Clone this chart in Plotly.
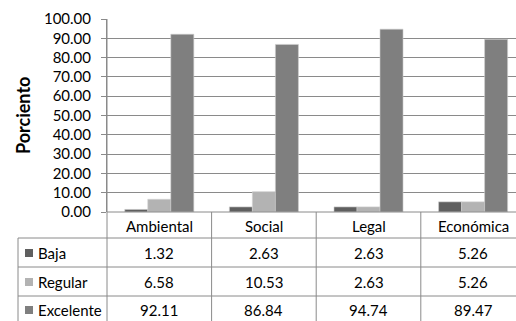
import plotly.graph_objects as go

categories = ["Ambiental", "Social", "Legal", "Económica"]
series_names = ["Baja", "Regular", "Excelente"]
baja = [1.32, 2.63, 2.63, 5.26]
regular = [6.58, 10.53, 2.63, 5.26]
excelente = [92.11, 86.84, 94.74, 89.47]
colors = ["#5f5f5f", "#b3b3b3", "#7f7f7f"]

W, H = 516, 321
ML, MR, MT, MB = 107, 0, 19, 109
PW, PH = W - ML - MR, H - MT - MB
CATW = 104.6  # pixel width of one category
XR = [-0.5, -0.5 + PW / CATW]

FONT = "Lato"
FS = 15
TXT = "#000000"
LINE = "#8a8a8a"

def px(xpix):
    return (xpix - ML) / PW

def py(ypix):
    return (MT + PH - ypix) / PH

def cat_paper(c):
    return (c - XR[0]) / (XR[1] - XR[0])

fig = go.Figure()
xs = list(range(len(categories)))
for name, vals, col in zip(series_names, [baja, regular, excelente], colors):
    fig.add_trace(go.Bar(x=xs, y=vals, name=name, marker=dict(color=col, line=dict(width=0.6, color="#cfcfcf"))))

shapes = []
annotations = []
shapes.append(dict(type="line", xref="paper", yref="paper", x0=0, x1=1, y0=0, y1=0, line=dict(color=LINE, width=1)))
shapes.append(dict(type="line", xref="paper", yref="paper", x0=0, x1=0, y0=1, y1=py(H + 5), line=dict(color=LINE, width=1)))
for c in range(len(categories)):
    xb = cat_paper(c + 0.5)
    if xb < 1:
        shapes.append(dict(type="line", xref="paper", yref="paper", x0=xb, x1=xb, y0=0, y1=py(H + 5), line=dict(color=LINE, width=1)))
row_lines = [238, 267, 296]
for yl in row_lines:
    shapes.append(dict(type="line", xref="paper", yref="paper", x0=px(18), x1=1, y0=py(yl), y1=py(yl), line=dict(color=LINE, width=1)))
shapes.append(dict(type="line", xref="paper", yref="paper", x0=px(18), x1=px(18), y0=py(238), y1=py(H + 5), line=dict(color=LINE, width=1)))

for c, cat in enumerate(categories):
    annotations.append(dict(x=c, y=py(226), xref="x", yref="paper", text=cat, showarrow=False,
                            font=dict(family=FONT, size=FS, color=TXT), xanchor="center", yanchor="middle"))
row_centers = [253, 282, 310]
for r, (name, vals, col) in enumerate(zip(series_names, [baja, regular, excelente], colors)):
    yc = row_centers[r]
    shapes.append(dict(type="rect", xref="paper", yref="paper", x0=px(25), x1=px(33), y0=py(yc + 4), y1=py(yc - 4),
                       fillcolor=col, line=dict(width=0)))
    annotations.append(dict(x=px(36), y=py(yc), xref="paper", yref="paper", text=name, showarrow=False,
                            font=dict(family=FONT, size=FS, color=TXT), xanchor="left", yanchor="middle"))
    for c, v in enumerate(vals):
        annotations.append(dict(x=c, y=py(yc), xref="x", yref="paper", text=f"{v:.2f}", showarrow=False,
                                font=dict(family=FONT, size=FS, color=TXT), xanchor="center", yanchor="middle"))

annotations.append(dict(x=px(23), y=py(116), xref="paper", yref="paper", text="<b>Porciento</b>", textangle=-90,
                        showarrow=False, font=dict(family=FONT, size=18, color=TXT), xanchor="center", yanchor="middle"))

fig.update_layout(
    width=W, height=H,
    margin=dict(l=ML, r=MR, t=MT, b=MB, pad=0),
    paper_bgcolor="white", plot_bgcolor="white",
    barmode="group", bargap=0.34, bargroupgap=0,
    showlegend=False,
    shapes=shapes, annotations=annotations,
    xaxis=dict(range=XR, showticklabels=False, showgrid=False, zeroline=False, showline=False, ticks=""),
    yaxis=dict(range=[0, 100], dtick=10, tickformat=".2f", showgrid=True, gridcolor=LINE, gridwidth=1,
               zeroline=False, showline=True, linecolor=LINE, linewidth=1, ticks="outside", ticklen=5,
               tickcolor=LINE, ticklabelstandoff=7,
               tickfont=dict(family=FONT, size=FS, color=TXT)),
)
fig.write_html("out.html")
